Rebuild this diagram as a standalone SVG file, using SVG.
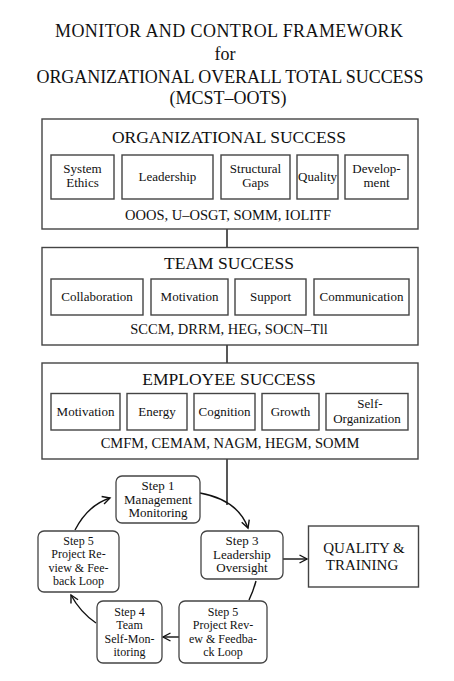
<svg xmlns="http://www.w3.org/2000/svg" width="454" height="681" viewBox="0 0 454 681" font-family="'Liberation Serif', 'Times New Roman', serif">
<defs>
<style>
text{font-family:'Liberation Serif','Times New Roman',serif;fill:#111;text-anchor:middle}
.t{font-size:18px}
.h{font-size:17.5px}
.s{font-size:14.5px}
.b{font-size:13px}
.n{font-size:12px}
.q{font-size:15px}
.box{fill:#fff;stroke:#444;stroke-width:1.4}
.rb{fill:#fff;stroke:#444;stroke-width:1.3}
.c{fill:none;stroke:#111;stroke-width:1.4}
</style>
<marker id="ah" markerWidth="10" markerHeight="10" refX="7.5" refY="4" orient="auto" markerUnits="userSpaceOnUse" overflow="visible">
<path d="M0,0 L7.5,4 L0,8" fill="none" stroke="#111" stroke-width="1.4"/>
</marker>
</defs>
<rect width="454" height="681" fill="#fff"/>
<g id="title">
<text class="t" x="229" y="37" textLength="348" lengthAdjust="spacing">MONITOR AND CONTROL FRAMEWORK</text>
<text class="t" x="225" y="60">for</text>
<text class="t" x="230" y="83" textLength="387" lengthAdjust="spacing">ORGANIZATIONAL OVERALL TOTAL SUCCESS</text>
<text class="t" x="228" y="104">(MCST–OOTS)</text>
</g>
<g id="connectors">
<line class="c" x1="227" y1="229" x2="227" y2="247.5"/>
<line class="c" x1="227" y1="345" x2="227" y2="363"/>
<line class="c" x1="227" y1="459" x2="227" y2="505"/>
<path class="c" d="M200,493 Q238,500 248,528" marker-end="url(#ah)"/>
<path class="c" d="M283,559 L307,559" marker-end="url(#ah)"/>
<path class="c" d="M256,581 Q253,592 249,600"/>
<path class="c" d="M179,637 L163,637" marker-end="url(#ah)"/>
<path class="c" d="M96,623 Q80,612 71,595" marker-end="url(#ah)"/>
<path class="c" d="M75,530 Q88,505 110,498" marker-end="url(#ah)"/>
</g>
<g id="org">
<rect class="box" x="42" y="119" width="376" height="110"/>
<text class="h" x="229" y="143">ORGANIZATIONAL SUCCESS</text>
<g id="org-ethics"><rect class="box" x="51" y="155" width="63" height="44"/><text class="b" x="82.5" y="173">System</text><text class="b" x="82.5" y="187">Ethics</text></g>
<g id="org-lead"><rect class="box" x="122" y="155" width="91" height="44"/><text class="b" x="167.5" y="181">Leadership</text></g>
<g id="org-gaps"><rect class="box" x="221" y="155" width="69" height="44"/><text class="b" x="255.5" y="173">Structural</text><text class="b" x="255.5" y="187">Gaps</text></g>
<g id="org-quality"><rect class="box" x="297" y="155" width="41" height="44"/><text class="b" x="317.5" y="181">Quality</text></g>
<g id="org-dev"><rect class="box" x="345" y="155" width="63" height="44"/><text class="b" x="376.5" y="173">Develop-</text><text class="b" x="376.5" y="187">ment</text></g>
<text class="s" x="228" y="220">OOOS, U–OSGT, SOMM, IOLITF</text>
</g>
<g id="team">
<rect class="box" x="42" y="247.5" width="376" height="97.5"/>
<text class="h" x="229" y="269">TEAM SUCCESS</text>
<g id="team-collab"><rect class="box" x="51" y="279" width="92" height="36"/><text class="b" x="97" y="301">Collaboration</text></g>
<g id="team-motiv"><rect class="box" x="151" y="279" width="77" height="36"/><text class="b" x="189.5" y="301">Motivation</text></g>
<g id="team-support"><rect class="box" x="235" y="279" width="71" height="36"/><text class="b" x="270.5" y="301">Support</text></g>
<g id="team-comm"><rect class="box" x="314" y="279" width="95" height="36"/><text class="b" x="361.5" y="301">Communication</text></g>
<text class="s" x="229" y="334">SCCM, DRRM, HEG, SOCN–Tll</text>
</g>
<g id="employee">
<rect class="box" x="42" y="363" width="376" height="96"/>
<text class="h" x="229" y="385">EMPLOYEE SUCCESS</text>
<g id="emp-motiv"><rect class="box" x="51" y="393.5" width="69" height="36.5"/><text class="b" x="85.5" y="416">Motivation</text></g>
<g id="emp-energy"><rect class="box" x="127" y="393.5" width="60" height="36.5"/><text class="b" x="157" y="416">Energy</text></g>
<g id="emp-cog"><rect class="box" x="194" y="393.5" width="61" height="36.5"/><text class="b" x="224.5" y="416">Cognition</text></g>
<g id="emp-growth"><rect class="box" x="262" y="393.5" width="57" height="36.5"/><text class="b" x="290.5" y="416">Growth</text></g>
<g id="emp-selforg"><rect class="box" x="326" y="393.5" width="82" height="36.5"/><text class="b" x="370" y="407.5">Self-</text><text class="b" x="367" y="422.5">Organization</text></g>
<text class="s" x="230" y="448">CMFM, CEMAM, NAGM, HEGM, SOMM</text>
</g>
<g id="step1"><rect class="rb" x="116" y="476" width="84" height="47" rx="6"/><text class="b" x="158" y="490">Step 1</text><text class="b" x="158" y="503.5">Management</text><text class="b" x="158" y="517">Monitoring</text></g>
<g id="step3"><rect class="rb" x="201" y="531" width="82" height="48" rx="6"/><text class="b" x="242" y="545">Step 3</text><text class="b" x="242" y="558.5">Leadership</text><text class="b" x="242" y="572">Oversight</text></g>
<g id="quality"><rect class="box" x="308.5" y="526" width="110" height="61"/><text class="q" x="364" y="553">QUALITY &amp;</text><text class="q" x="362" y="569.5">TRAINING</text></g>
<g id="step5b"><rect class="rb" x="179" y="601" width="88" height="62" rx="6"/><text class="n" x="223" y="616">Step 5</text><text class="n" x="223" y="629">Project Rev-</text><text class="n" x="223" y="642.5">ew &amp; Feedba-</text><text class="n" x="223" y="656">ck Loop</text></g>
<g id="step4"><rect class="rb" x="97" y="601" width="65" height="62" rx="6"/><text class="n" x="129.5" y="616">Step 4</text><text class="n" x="129.5" y="629">Team</text><text class="n" x="129.5" y="642.5">Self-Mon-</text><text class="n" x="129.5" y="656">itoring</text></g>
<g id="step5l"><rect class="rb" x="38" y="531" width="81" height="61" rx="6"/><text class="n" x="78.5" y="545">Step 5</text><text class="n" x="78.5" y="558">Project Re-</text><text class="n" x="78.5" y="571.5">view &amp; Fee-</text><text class="n" x="78.5" y="585">back Loop</text></g>
</svg>
